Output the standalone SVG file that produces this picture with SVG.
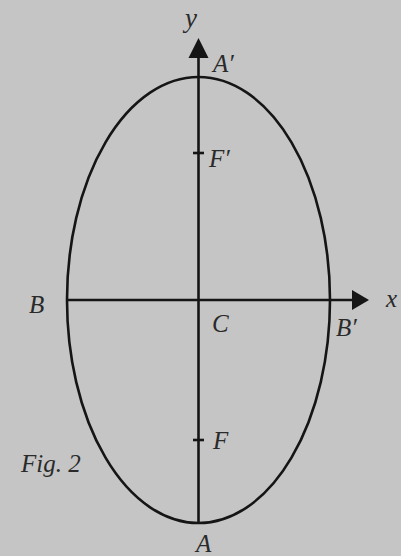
<svg xmlns="http://www.w3.org/2000/svg" width="401" height="556" viewBox="0 0 401 556">
<style>
.ln{stroke:#151515;stroke-width:2.6;fill:none}
.lb{font-family:"Liberation Serif","Times New Roman",serif;font-style:italic;fill:#2a2a2a;font-size:25px}
</style>
<rect width="401" height="556" fill="#c5c5c5"/>
<g id="ellipse"><ellipse class="ln" cx="198.5" cy="300" rx="131.5" ry="223"/></g>
<g id="connectors">
<line class="ln" x1="198.5" y1="54" x2="198.5" y2="523"/>
<polygon points="198.5,38 188.5,58 208.5,58" fill="#151515"/>
<line class="ln" x1="67" y1="300" x2="354" y2="300"/>
<polygon points="369,300 352,290 352,310" fill="#151515"/>
<line class="ln" x1="193" y1="153" x2="204" y2="153"/>
<line class="ln" x1="193" y1="440" x2="204" y2="440"/>
</g>
<g id="labels">
<text class="lb" x="185" y="27" style="font-size:27px">y</text>
<text class="lb" x="213" y="72">A′</text>
<text class="lb" x="209" y="167">F′</text>
<text class="lb" x="29" y="313">B</text>
<text class="lb" x="212" y="332">C</text>
<text class="lb" x="336" y="336">B′</text>
<text class="lb" x="386" y="307">x</text>
<text class="lb" x="213" y="449">F</text>
<text class="lb" x="196" y="552">A</text>
<text class="lb" x="21" y="472">Fig. 2</text>
</g>
</svg>
